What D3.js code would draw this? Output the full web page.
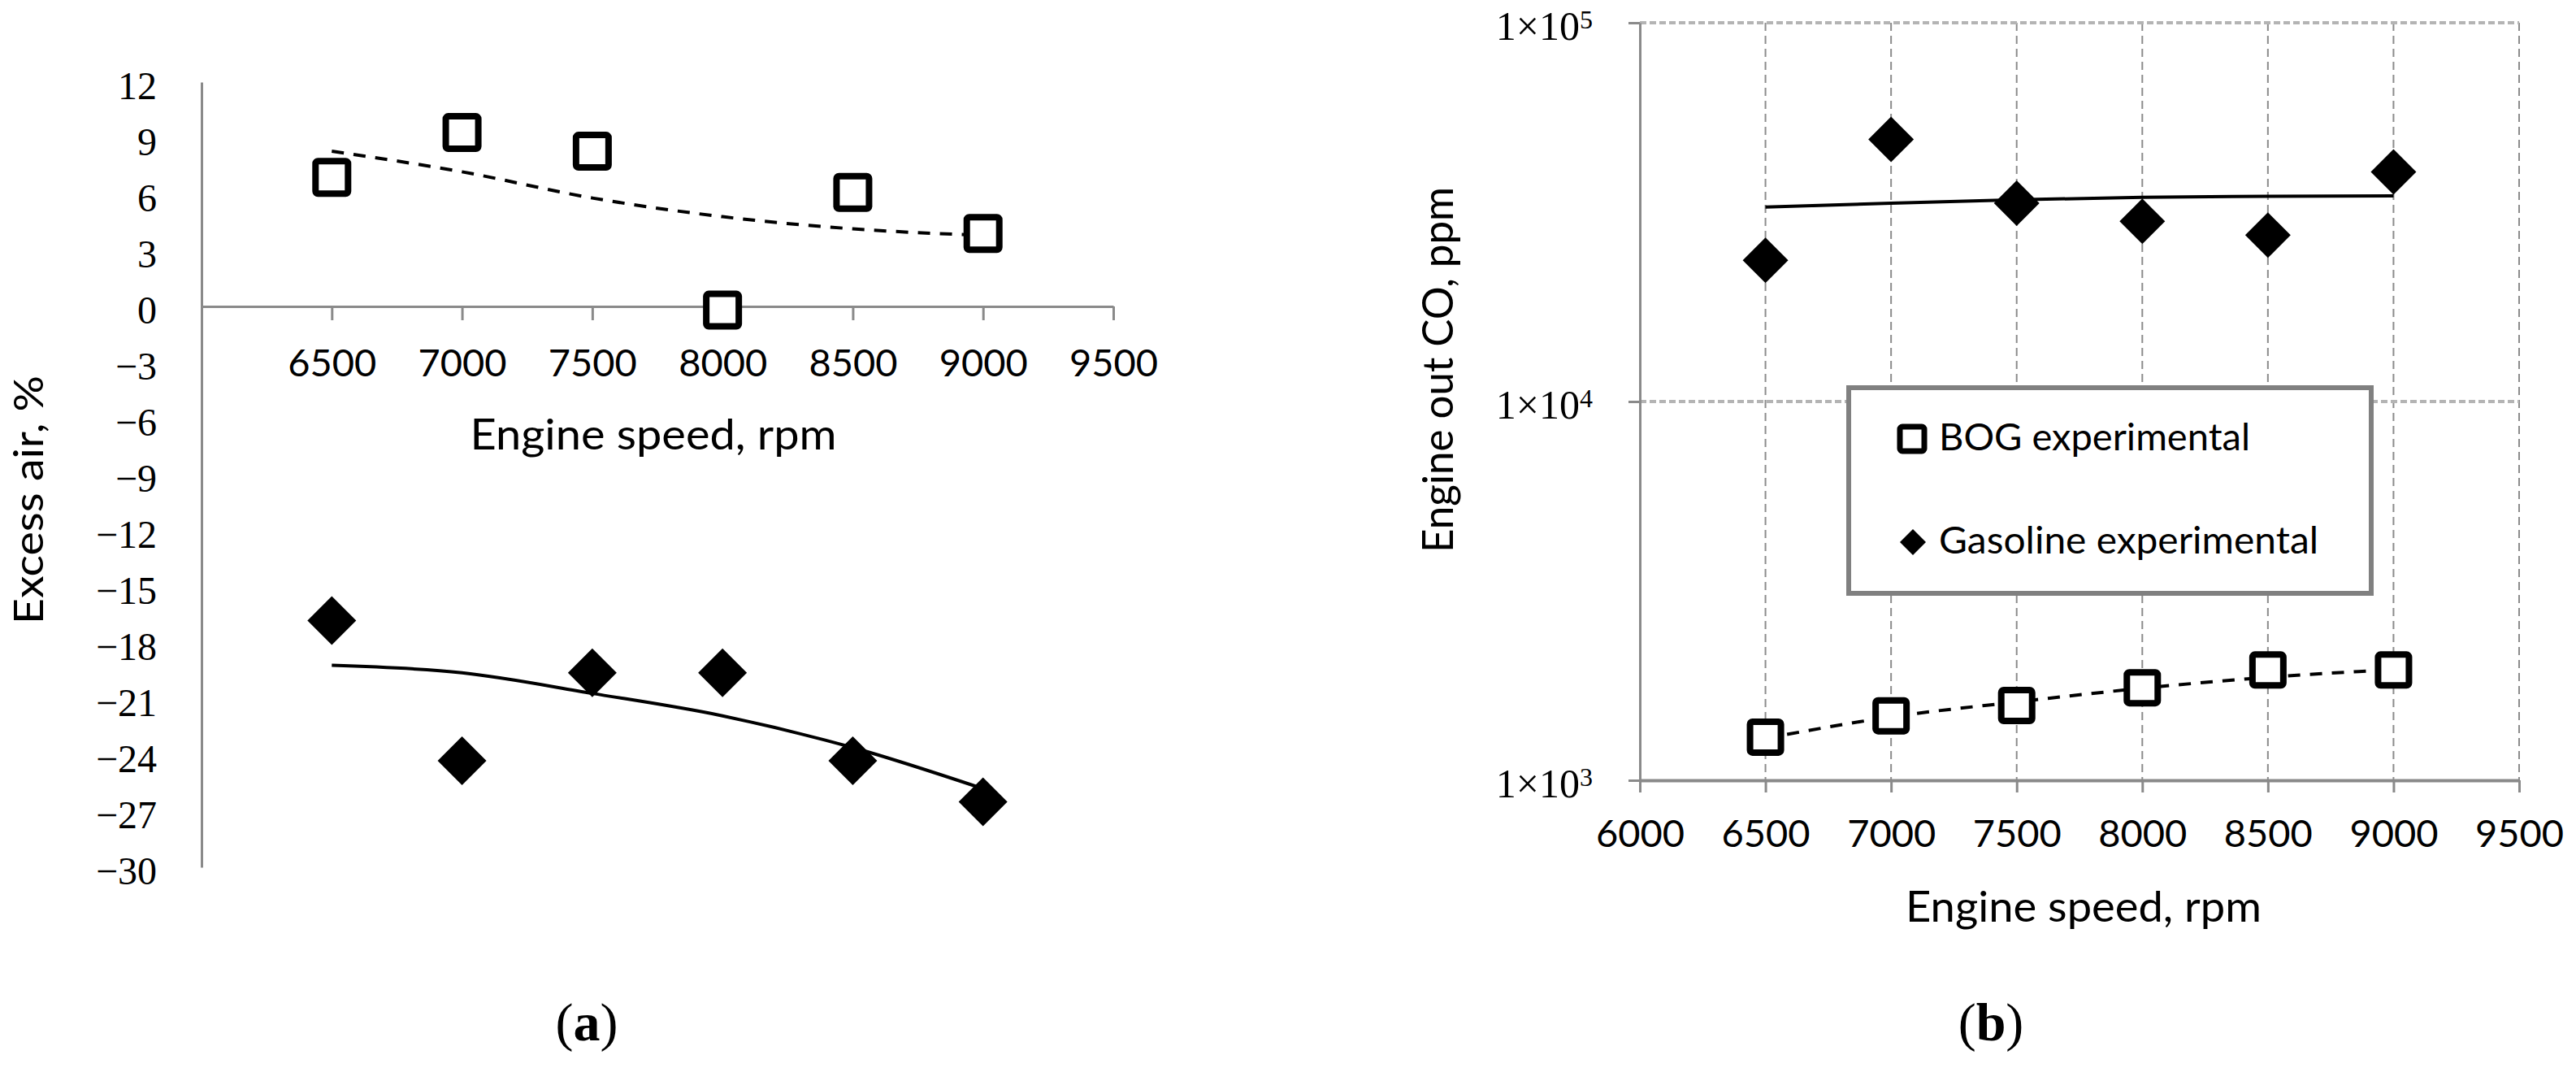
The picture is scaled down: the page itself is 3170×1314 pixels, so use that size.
<!DOCTYPE html>
<html>
<head>
<meta charset="utf-8">
<script src="https://cdn.jsdelivr.net/npm/d3@7"></script>
<style>
  html, body { margin: 0; padding: 0; background: #fff; }
  svg { display: block; }
</style>
</head>
<body>
<div id="chart"></div>
<script>
// engine speed, rpm
const speeds = [6500, 7000, 7500, 8000, 8500, 9000];

// (a) excess air, %
const bogExcessAir = [6.9, 9.3, 8.3, -0.2, 6.1, 3.9];
const gasExcessAir = [-16.8, -24.3, -19.6, -19.6, -24.3, -26.5];
const bogExcessTrend = [8.3, 7.2, 5.8, 4.8, 4.15, 3.8];
const gasExcessTrend = [-19.2, -19.6, -20.7, -21.9, -23.6, -25.8];

// (b) engine out CO, ppm
const bogCO = [1300, 1480, 1575, 1755, 1955, 1955];
const gasCO = [23600, 49200, 33400, 29900, 27500, 40400];
const bogCOTrend = [1290, 1470, 1610, 1750, 1870, 1960];
const gasCOTrend = [32600, 33400, 34100, 34600, 34800, 34900];

// ticks
const xTicksA = [6500, 7000, 7500, 8000, 8500, 9000, 9500];
const yTicksA = d3.range(-30, 13, 3);
const xTicksB = [6000, 6500, 7000, 7500, 8000, 8500, 9000, 9500];
const yTicksB = [1e3, 1e4, 1e5];

const W = 3170, H = 1314;
const axisGrey = '#8a8a8a';
const sansFont = 'Lato, "Open Sans", sans-serif';
const serifFont = '"Liberation Serif", "DejaVu Serif", serif';

const svg = d3.select('#chart').append('svg')
    .attr('width', W)
    .attr('height', H)
    .style('background', '#fff');

function diamondPath(cx, cy, r) {
  return 'M' + cx + ',' + (cy - r) + 'L' + (cx + r) + ',' + cy +
         'L' + cx + ',' + (cy + r) + 'L' + (cx - r) + ',' + cy + 'Z';
}

function drawSquares(g, xs, ys, side) {
  g.selectAll(null)
    .data(xs.map((x, i) => [x, ys[i]]))
    .enter().append('rect')
      .attr('x', d => d[0] - side / 2)
      .attr('y', d => d[1] - side / 2)
      .attr('width', side)
      .attr('height', side)
      .attr('rx', 3)
      .attr('fill', '#fff')
      .attr('stroke', '#000')
      .attr('stroke-width', 8);
}

function drawDiamonds(g, xs, ys, r) {
  g.selectAll(null)
    .data(xs.map((x, i) => [x, ys[i]]))
    .enter().append('path')
      .attr('d', d => diamondPath(d[0], d[1], r))
      .attr('fill', '#000');
}

// title text stretched to the width it has in the figure
function title(g, text, len, size) {
  return g.append('text')
      .attr('text-anchor', 'middle')
      .attr('font-family', sansFont)
      .attr('font-size', size || 53)
      .attr('textLength', len)
      .attr('lengthAdjust', 'spacingAndGlyphs')
      .text(text);
}

// ---------------- (a) excess air ----------------
const xA = d3.scaleLinear().domain([6000, 9500]).range([248, 1370]);
const yA = d3.scaleLinear().domain([-30, 12]).range([1067, 101]);

const gA = svg.append('g');

const yAxisA = d3.axisLeft(yA)
    .tickValues(yTicksA)
    .tickSize(0)
    .tickSizeOuter(0)
    .tickPadding(55);
gA.append('g')
    .attr('transform', 'translate(' + xA(6000) + ',0)')
    .call(yAxisA)
    .call(g => g.select('.domain').attr('stroke', axisGrey).attr('stroke-width', 3))
    .call(g => g.selectAll('text')
        .attr('dy', '0.42em')
        .attr('font-family', serifFont)
        .attr('font-size', 48)
        .attr('fill', '#000'));

const xAxisA = d3.axisBottom(xA)
    .tickValues(xTicksA)
    .tickSize(17)
    .tickSizeOuter(0)
    .tickFormat(d3.format('d'));
gA.append('g')
    .attr('transform', 'translate(0,' + yA(0) + ')')
    .call(xAxisA)
    .call(g => g.select('.domain').attr('stroke', axisGrey).attr('stroke-width', 3))
    .call(g => g.selectAll('.tick line').attr('stroke', axisGrey).attr('stroke-width', 3))
    .call(g => g.selectAll('text')
        .attr('y', 70)
        .attr('dy', '0.35em')
        .attr('font-family', sansFont)
        .attr('font-size', 47)
        .attr('fill', '#000'));

title(gA, 'Engine speed, rpm', 451)
    .attr('x', 804)
    .attr('y', 553);

title(gA, 'Excess air, %', 306, 51)
    .attr('transform', 'translate(53,615) rotate(-90)');

const lineA = d3.line()
    .x((d, i) => xA(speeds[i]))
    .y(d => yA(d))
    .curve(d3.curveMonotoneX);

gA.append('path')
    .attr('d', lineA(bogExcessTrend))
    .attr('fill', 'none')
    .attr('stroke', '#000')
    .attr('stroke-width', 4)
    .attr('stroke-dasharray', '15,12');

gA.append('path')
    .attr('d', lineA(gasExcessTrend))
    .attr('fill', 'none')
    .attr('stroke', '#000')
    .attr('stroke-width', 4);

drawSquares(gA, speeds.map(xA), bogExcessAir.map(yA), 40);
drawDiamonds(gA, speeds.map(xA), gasExcessAir.map(yA), 30);

gA.append('text')
    .attr('x', 722)
    .attr('y', 1280)
    .attr('text-anchor', 'middle')
    .attr('font-family', serifFont)
    .attr('font-size', 66)
    .call(t => {
      t.append('tspan').text('(');
      t.append('tspan').attr('font-weight', 'bold').text('a');
      t.append('tspan').text(')');
    });

// ---------------- (b) engine out CO ----------------
const xB = d3.scaleLinear().domain([6000, 9500]).range([2018, 3100]);
const yB = d3.scaleLog().domain([1e3, 1e5]).range([960, 28]);

const gB = svg.append('g');

// grid
gB.append('g')
  .selectAll('line')
  .data(xTicksB.slice(1))
  .enter().append('line')
    .attr('x1', d => xB(d))
    .attr('x2', d => xB(d))
    .attr('y1', yB(1e5))
    .attr('y2', yB(1e3))
    .attr('stroke', '#8c8c8c')
    .attr('stroke-width', 2)
    .attr('stroke-dasharray', '10,6');

gB.append('g')
  .selectAll('line')
  .data(yTicksB.slice(1))
  .enter().append('line')
    .attr('x1', xB(6000))
    .attr('x2', xB(9500))
    .attr('y1', d => yB(d))
    .attr('y2', d => yB(d))
    .attr('stroke', '#b4b4b4')
    .attr('stroke-width', 4)
    .attr('stroke-dasharray', '8,4');

const xAxisB = d3.axisBottom(xB)
    .tickValues(xTicksB)
    .tickSize(15)
    .tickSizeOuter(0)
    .tickFormat(d3.format('d'));
gB.append('g')
    .attr('transform', 'translate(0,' + yB(1e3) + ')')
    .call(xAxisB)
    .call(g => g.select('.domain').attr('stroke', axisGrey).attr('stroke-width', 4))
    .call(g => g.selectAll('.tick line').attr('stroke', axisGrey).attr('stroke-width', 3))
    .call(g => g.selectAll('text')
        .attr('y', 66)
        .attr('dy', '0.35em')
        .attr('font-family', sansFont)
        .attr('font-size', 47)
        .attr('fill', '#000'));

const yAxisB = d3.axisLeft(yB)
    .tickValues(yTicksB)
    .tickSize(14)
    .tickSizeOuter(0)
    .tickFormat('');
gB.append('g')
    .attr('transform', 'translate(' + xB(6000) + ',0)')
    .call(yAxisB)
    .call(g => g.select('.domain').attr('stroke', axisGrey).attr('stroke-width', 3))
    .call(g => g.selectAll('.tick line').attr('stroke', axisGrey).attr('stroke-width', 3))
    .call(g => g.selectAll('.tick').append('text')
        .attr('x', -58)
        .attr('dy', '0.4em')
        .attr('text-anchor', 'end')
        .attr('font-family', serifFont)
        .attr('font-size', 50)
        .attr('fill', '#000')
        .each(function(d) {
          const t = d3.select(this);
          t.append('tspan').text('1\u00d710');
          t.append('tspan')
              .attr('dy', '-0.42em')
              .attr('font-size', 32)
              .text(Math.round(Math.log10(d)));
        }));

title(gB, 'Engine speed, rpm', 438)
    .attr('x', 2564)
    .attr('y', 1134);

title(gB, 'Engine out CO, ppm', 450)
    .attr('transform', 'translate(1788,455) rotate(-90)');

const lineB = d3.line()
    .x((d, i) => xB(speeds[i]))
    .y(d => yB(d))
    .curve(d3.curveMonotoneX);

gB.append('path')
    .attr('d', lineB(gasCOTrend))
    .attr('fill', 'none')
    .attr('stroke', '#000')
    .attr('stroke-width', 4);

gB.append('path')
    .attr('d', lineB(bogCOTrend))
    .attr('fill', 'none')
    .attr('stroke', '#000')
    .attr('stroke-width', 4)
    .attr('stroke-dasharray', '15,12');

drawDiamonds(gB, speeds.map(xB), gasCO.map(yB), 28);
drawSquares(gB, speeds.map(xB), bogCO.map(yB), 38);

// legend
const legend = gB.append('g');
legend.append('rect')
    .attr('x', 2275)
    .attr('y', 477)
    .attr('width', 643)
    .attr('height', 253)
    .attr('fill', '#fff')
    .attr('stroke', '#808080')
    .attr('stroke-width', 6);
legend.append('rect')
    .attr('x', 2353 - 15)
    .attr('y', 540 - 15)
    .attr('width', 30)
    .attr('height', 30)
    .attr('rx', 3)
    .attr('fill', '#fff')
    .attr('stroke', '#000')
    .attr('stroke-width', 7);
legend.append('path')
    .attr('d', diamondPath(2354, 667, 16))
    .attr('fill', '#000');
legend.append('text')
    .attr('x', 2386)
    .attr('y', 538)
    .attr('dy', '0.35em')
    .attr('font-family', sansFont)
    .attr('font-size', 46)
    .attr('textLength', 383)
    .attr('lengthAdjust', 'spacingAndGlyphs')
    .text('BOG experimental');
legend.append('text')
    .attr('x', 2386)
    .attr('y', 665)
    .attr('dy', '0.35em')
    .attr('font-family', sansFont)
    .attr('font-size', 46)
    .attr('textLength', 467)
    .attr('lengthAdjust', 'spacingAndGlyphs')
    .text('Gasoline experimental');

gB.append('text')
    .attr('x', 2450)
    .attr('y', 1280)
    .attr('text-anchor', 'middle')
    .attr('font-family', serifFont)
    .attr('font-size', 66)
    .call(t => {
      t.append('tspan').text('(');
      t.append('tspan').attr('font-weight', 'bold').text('b');
      t.append('tspan').text(')');
    });
</script>
</body>
</html>
